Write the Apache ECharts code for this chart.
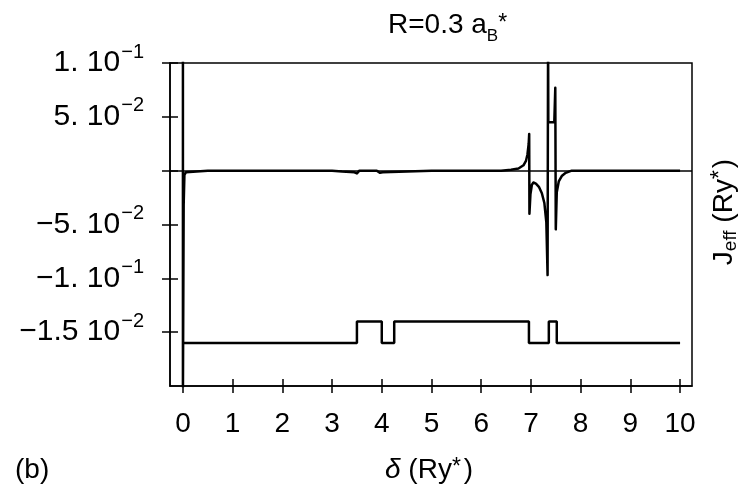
<!DOCTYPE html>
<html>
<head>
<meta charset="utf-8">
<script src="https://cdn.jsdelivr.net/npm/echarts@6/dist/echarts.min.js"></script>
<style>
html,body{margin:0;padding:0;background:#fff;}
#c{width:742px;height:488px;}
</style>
</head>
<body>
<div id="c"></div>
<script>
// ---- data ----
const deltaMain = [0, 0, 0.015, 0.03, 0.06, 0.35, 0.5, 1, 2, 3, 3.2, 3.45, 3.5, 3.55, 3.9, 3.96, 4.02, 4.05, 5, 6, 6.4, 6.6, 6.75, 6.85, 6.9, 6.93, 6.955, 6.965, 6.97, 6.99, 7.02, 7.05, 7.1, 7.16, 7.22, 7.27, 7.31, 7.335, 7.345, 7.35, 7.47, 7.49, 7.5, 7.52, 7.56, 7.62, 7.7, 7.82, 8, 9, 10];
const jMain = [0.13, -0.21, -0.032, -0.004, -0.0015, -0.0005, 0, 0, 0, 0, -0.0008, -0.0015, -0.0025, 0, 0, -0.002, -0.0015, 0, 0, 0, 0, 0.0008, 0.002, 0.005, 0.009, 0.015, 0.025, 0.034, -0.040, -0.022, -0.013, -0.011, -0.012, -0.015, -0.021, -0.03, -0.048, -0.097, 0.13, 0.045, 0.045, 0.077, -0.0545, -0.02, -0.01, -0.005, -0.002, 0, 0, 0, 0];

const stepDelta = [0, 3.5, 4.0, 4.25, 6.96, 7.36, 7.52, 10];
const stepLevel = [-0.16, -0.14, -0.16, -0.14, -0.16, -0.14, -0.16, -0.16];

const xTicks = [0, 1, 2, 3, 4, 5, 6, 7, 8, 9, 10];
const yTicks = [-0.15, -0.1, -0.05, 0, 0.05, 0.1];
const yLabelValues = [-0.15, -0.1, -0.05, 0.05, 0.1];
const yLabelMantissa = ['\u22121.5 10', '\u22121. 10', '\u22125. 10', '5. 10', '1. 10'];
const yLabelExponent = ['\u22122', '\u22121', '\u22122', '\u22122', '\u22121'];

const FONT = '"Liberation Sans", Arial, Helvetica, sans-serif';

const mainData = deltaMain.map((d, i) => [d, jMain[i]]);
const stepData = stepDelta.map((d, i) => [d, stepLevel[i]]);

const chart = echarts.init(document.getElementById('c'), null, {renderer: 'canvas'});

const xRange = {min: -0.26, max: 10.24};
const yRange = {min: -0.2, max: 0.1};

const option = {
  backgroundColor: '#fff',
  animation: false,
  textStyle: {fontFamily: FONT, color: '#000'},
  grid: {left: 170, top: 63, right: 50, bottom: 102, show: true, borderColor: '#000', borderWidth: 1.5, backgroundColor: 'transparent', containLabel: false, outerBoundsMode: 'none'},
  xAxis: [
    {type: 'value', min: xRange.min, max: xRange.max, position: 'bottom',
     axisLine: {show: true, onZero: false, lineStyle: {color: '#000', width: 1.5}},
     axisTick: {show: true, inside: false, length: 7, customValues: xTicks, lineStyle: {color: '#000', width: 1.5}},
     axisLabel: {show: true, customValues: xTicks, margin: 24, fontSize: 28, color: '#000', fontFamily: FONT},
     splitLine: {show: false}},
    {type: 'value', min: xRange.min, max: xRange.max, position: 'bottom',
     axisLine: {show: false, onZero: false},
     axisTick: {show: true, inside: true, length: 7, customValues: xTicks, lineStyle: {color: '#000', width: 1.5}},
     axisLabel: {show: false}, splitLine: {show: false}}
  ],
  yAxis: [
    {type: 'value', min: yRange.min, max: yRange.max, position: 'left',
     axisLine: {show: true, onZero: false, lineStyle: {color: '#000', width: 1.5}},
     axisTick: {show: true, inside: false, length: 8, customValues: yTicks, lineStyle: {color: '#000', width: 1.5}},
     axisLabel: {show: true, customValues: yLabelValues, margin: 26, fontSize: 30, color: '#000', fontFamily: FONT,
       formatter: function (v) {
         let idx = -1;
         for (let i = 0; i < yLabelValues.length; i++) { if (Math.abs(yLabelValues[i] - v) < 1e-6) idx = i; }
         if (idx < 0) return '';
         return yLabelMantissa[idx] + '{s|' + yLabelExponent[idx] + '}';
       },
       rich: {s: {fontSize: 20, fontFamily: FONT, color: '#000', padding: [0, 0, 22, 1]}}},
     splitLine: {show: false}},
    {type: 'value', min: yRange.min, max: yRange.max, position: 'left',
     axisLine: {show: false, onZero: false},
     axisTick: {show: true, inside: true, length: 8, customValues: yTicks, lineStyle: {color: '#000', width: 1.5}},
     axisLabel: {show: false}, splitLine: {show: false}}
  ],
  series: [
    {type: 'line', xAxisIndex: 0, yAxisIndex: 0, data: stepData, step: 'end', symbol: 'none', clip: true,
     lineStyle: {color: '#000', width: 2.5}, z: 3,
     markLine: {silent: true, symbol: 'none', label: {show: false},
       lineStyle: {color: '#000', width: 1.5, type: 'solid'}, data: [{yAxis: 0}]}},
    {type: 'line', xAxisIndex: 0, yAxisIndex: 0, data: mainData, symbol: 'none', clip: true, smooth: false,
     lineStyle: {color: '#000', width: 2.5, join: 'round'}, z: 4}
  ],
  graphic: [
    {type: 'text', x: 388, y: 25, z: 10,
     style: {text: 'R=0.3 a{sub|B}{sup|*}', font: '28px ' + FONT, fill: '#000', verticalAlign: 'middle', align: 'left',
       rich: {sub: {fontSize: 17, fontFamily: FONT, fill: '#000', padding: [22, 0, 0, 0]},
              sup: {fontSize: 23, fontFamily: FONT, fill: '#000', padding: [0, 0, 2, 0]}}}},
    {type: 'text', x: 385, y: 470, z: 10,
     style: {text: '{d|\u03b4} (Ry{s|*})', font: '28px ' + FONT, fill: '#000', verticalAlign: 'middle', align: 'left',
       rich: {d: {fontSize: 28, fontStyle: 'italic', fontFamily: FONT, fill: '#000'},
              s: {fontSize: 23, fontFamily: FONT, fill: '#000', padding: [0, 3, 4, 0]}}}},
    {type: 'text', x: 15, y: 470, z: 10,
     style: {text: '(b)', font: '28px ' + FONT, fill: '#000', verticalAlign: 'middle', align: 'left'}},
    {type: 'text', x: 724, y: 212, rotation: Math.PI / 2, z: 10,
     style: {text: 'J{sub|eff} (Ry{sup|*})', font: '28px ' + FONT, fill: '#000', verticalAlign: 'middle', align: 'center',
       rich: {sub: {fontSize: 19, fontFamily: FONT, fill: '#000', padding: [14, 0, 0, 0]},
              sup: {fontSize: 23, fontFamily: FONT, fill: '#000', padding: [0, 2, 6, 0]}}}}
  ]
};
chart.setOption(option);
</script>
</body>
</html>
